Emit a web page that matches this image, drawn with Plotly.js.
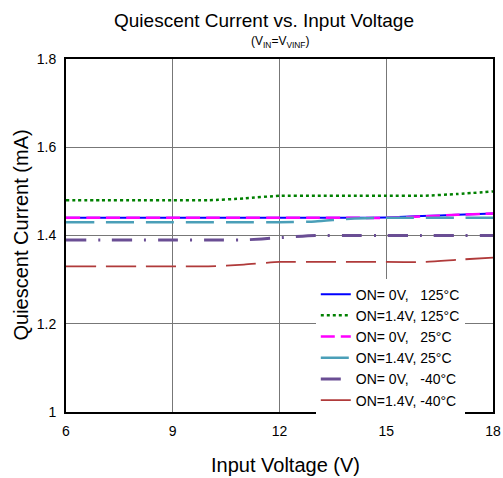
<!DOCTYPE html>
<html>
<head>
<meta charset="utf-8">
<script src="https://cdn.plot.ly/plotly-3.0.1.min.js"></script>
<style>html,body{margin:0;padding:0;background:#fff;}#chart{width:503px;height:478px;}</style>
</head>
<body>
<div id="chart"></div>
<script>
const voltage = [6, 7, 8, 9, 10, 11, 12, 13, 14, 15, 16, 17, 18];
const on0v_125 = [1.44, 1.44, 1.44, 1.44, 1.44, 1.44, 1.44, 1.44, 1.44, 1.441, 1.444, 1.447, 1.45];
const on14v_125 = [1.48, 1.48, 1.48, 1.48, 1.48, 1.484, 1.49, 1.49, 1.49, 1.49, 1.49, 1.494, 1.50];
const on0v_25 = [1.44, 1.44, 1.44, 1.44, 1.44, 1.44, 1.44, 1.44, 1.44, 1.44, 1.443, 1.447, 1.45];
const on14v_25 = [1.43, 1.43, 1.43, 1.43, 1.43, 1.43, 1.43, 1.432, 1.438, 1.44, 1.44, 1.44, 1.44];
const on0v_m40 = [1.39, 1.39, 1.39, 1.39, 1.39, 1.39, 1.395, 1.40, 1.40, 1.40, 1.40, 1.40, 1.40];
const on14v_m40 = [1.33, 1.33, 1.33, 1.33, 1.33, 1.334, 1.34, 1.34, 1.34, 1.34, 1.34, 1.345, 1.35];
const xTicks = [6, 9, 12, 15, 18];
const yTicks = [1, 1.2, 1.4, 1.6, 1.8];
const yTickText = ["1", "1.2", "1.4", "1.6", "1.8"];
const seriesNames = [
  "ON=\u00a00V,\u00a0\u00a0\u00a0125\u00b0C",
  "ON=1.4V,\u00a0125\u00b0C",
  "ON=\u00a00V,\u00a0\u00a0\u00a025\u00b0C",
  "ON=1.4V,\u00a025\u00b0C",
  "ON=\u00a00V,\u00a0\u00a0\u00a0-40\u00b0C",
  "ON=1.4V,\u00a0-40\u00b0C"
];
const seriesData = [on0v_125, on14v_125, on0v_25, on14v_25, on0v_m40, on14v_m40];
const styles = [
  {color: "#0000ff", width: 2, dash: "solid"},
  {color: "#008000", width: 2.5, dash: "3px,3px"},
  {color: "#ff00ff", width: 2.5, dash: "14px,6px"},
  {color: "#4a9fb8", width: 2.5, dash: "28px,12px"},
  {color: "#6a4e94", width: 3, dash: "20px,12px,2px,12px"},
  {color: "#b03a3a", width: 1.8, dash: "30px,10px"}
];
const traces = seriesData.map((ys, i) => ({
  x: voltage, y: ys, name: seriesNames[i], type: "scatter", mode: "lines",
  line: Object.assign({shape: "spline", smoothing: 0.6}, styles[i])
}));
const layout = {
  width: 503, height: 478,
  margin: {l: 66, r: 10, t: 59, b: 66},
  paper_bgcolor: "#fff", plot_bgcolor: "#fff",
  font: {family: "Arial, Liberation Sans, sans-serif", size: 14, color: "#000"},
  xaxis: {range: [6, 18], tickvals: xTicks, ticktext: xTicks.map(String),
          showgrid: true, gridcolor: "#777", gridwidth: 1, zeroline: false,
          showline: true, linecolor: "#000", linewidth: 2, mirror: true, ticks: "",
          tickfont: {size: 14}, ticklabelstandoff: 5},
  yaxis: {range: [1, 1.8], tickvals: yTicks, ticktext: yTickText,
          showgrid: true, gridcolor: "#777", gridwidth: 1, zeroline: false,
          showline: true, linecolor: "#000", linewidth: 2, mirror: true, ticks: "",
          tickfont: {size: 14}, ticklabelstandoff: 5},
  legend: {x: 0.585, y: 0.378, xanchor: "left", yanchor: "top", bgcolor: "#fff", borderwidth: 0,
           font: {size: 14}, tracegroupgap: 0},
  showlegend: true,
  annotations: [
    {text: "Quiescent Current vs. Input Voltage", xref: "paper", yref: "paper",
     x: 0.464, y: 1.110, xanchor: "center", yanchor: "middle", showarrow: false,
     font: {size: 19, color: "#000"}},
    {text: "(V<sub>IN</sub>=V<sub>VINF</sub>)", xref: "paper", yref: "paper",
     x: 0.5, y: 1.048, xanchor: "center", yanchor: "middle", showarrow: false,
     font: {size: 12, color: "#000"}},
    {text: "Input Voltage (V)", xref: "paper", yref: "paper",
     x: 0.513, y: -0.150, xanchor: "center", yanchor: "middle", showarrow: false,
     font: {size: 20, color: "#000"}},
    {text: "Quiescent Current (mA)", xref: "paper", yref: "paper", textangle: -90,
     x: -0.1077, y: 0.5, xanchor: "center", yanchor: "middle", showarrow: false,
     font: {size: 20, color: "#000"}}
  ]
};
Plotly.newPlot("chart", traces, layout, {displayModeBar: false, staticPlot: true});
</script>
</body>
</html>
